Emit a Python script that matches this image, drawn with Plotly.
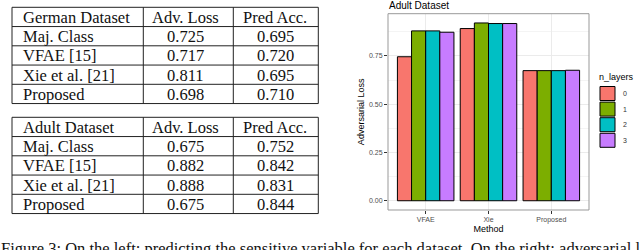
import plotly.graph_objects as go

W, H = 640, 250

# ---------------- data ----------------
table_header_cols = ["Adv. Loss", "Pred Acc."]
table_methods = ["Maj. Class", "VFAE [15]", "Xie et al. [21]", "Proposed"]
german_title = "German Dataset"
german_adv_loss = ["0.725", "0.717", "0.811", "0.698"]
german_pred_acc = ["0.695", "0.720", "0.695", "0.710"]
adult_title = "Adult Dataset"
adult_adv_loss = ["0.675", "0.882", "0.888", "0.675"]
adult_pred_acc = ["0.752", "0.842", "0.831", "0.844"]

bar_methods = ["VFAE", "Xie", "Proposed"]
n_layers = ["0", "1", "2", "3"]
loss_layer0 = [0.746, 0.892, 0.674]
loss_layer1 = [0.880, 0.921, 0.674]
loss_layer2 = [0.880, 0.918, 0.674]
loss_layer3 = [0.873, 0.918, 0.676]
layer_colors = ["#F8766D", "#7CAE00", "#00BFC4", "#C77CFF"]

y_ticks = [0.0, 0.25, 0.5, 0.75]
caption = ("Figure 3: On the left: predicting the sensitive variable for each dataset. "
           "On the right: adversarial loss as a function of the number of layers.")


def px(x):
    return x / W


def py(y):
    return 1 - y / H


fig = go.Figure()

series = [loss_layer0, loss_layer1, loss_layer2, loss_layer3]
for name, vals, col in zip(n_layers, series, layer_colors):
    fig.add_trace(go.Bar(
        x=bar_methods, y=vals, name=name,
        marker=dict(color=col, line=dict(color="black", width=1)),
        showlegend=False,
    ))

shapes = []
annotations = []

# ---------------- tables ----------------
serif = "Liberation Serif"
col_x = [12, 143.3, 233.3, 318.3]
row_h = 19.25


def draw_table(top, title, adv, acc):
    ys = [top + i * row_h for i in range(6)]
    for y in ys:
        shapes.append(dict(type="line", xref="paper", yref="paper",
                           x0=px(col_x[0]), x1=px(col_x[-1]), y0=py(y), y1=py(y),
                           line=dict(color="#222", width=1)))
    for x in col_x:
        shapes.append(dict(type="line", xref="paper", yref="paper",
                           x0=px(x), x1=px(x), y0=py(ys[0]), y1=py(ys[-1]),
                           line=dict(color="#222", width=1)))
    rows = [[title] + table_header_cols] + [[m, a, p] for m, a, p in zip(table_methods, adv, acc)]
    c2 = 185
    c3 = 275
    for i, r in enumerate(rows):
        yc = ys[i] + row_h / 2 + 0.5
        annotations.append(dict(text=r[0], xref="paper", yref="paper", x=px(21), y=py(yc),
                                xanchor="left", yanchor="middle", showarrow=False,
                                font=dict(family=serif, size=16.5, color="#111")))
        annotations.append(dict(text=r[1], xref="paper", yref="paper", x=px(c2), y=py(yc),
                                xanchor="center", yanchor="middle", showarrow=False,
                                font=dict(family=serif, size=16.5, color="#111")))
        annotations.append(dict(text=r[2], xref="paper", yref="paper", x=px(c3), y=py(yc),
                                xanchor="center", yanchor="middle", showarrow=False,
                                font=dict(family=serif, size=16.5, color="#111")))


draw_table(7.3, german_title, german_adv_loss, german_pred_acc)
draw_table(117.3, adult_title, adult_adv_loss, adult_pred_acc)

# ---------------- caption (cut off at bottom) ----------------
annotations.append(dict(text=caption, xref="paper", yref="paper", x=px(-1), y=py(237),
                        xanchor="left", yanchor="top", showarrow=False,
                        font=dict(family=serif, size=16.5, color="#111")))

# ---------------- bar chart annotations ----------------
sans = "Liberation Sans"
annotations.append(dict(text="Adult Dataset", xref="paper", yref="paper", x=px(387), y=py(5),
                        xanchor="left", yanchor="middle", showarrow=False,
                        font=dict(family=sans, size=10, color="black")))

# manual legend
annotations.append(dict(text="n_layers", xref="paper", yref="paper", x=px(597), y=py(77),
                        xanchor="left", yanchor="middle", showarrow=False,
                        font=dict(family=sans, size=9, color="black")))
for i, (name, col) in enumerate(zip(n_layers, layer_colors)):
    y0 = 86.5 + i * 15.6
    shapes.append(dict(type="rect", xref="paper", yref="paper",
                       x0=px(600), x1=px(615), y0=py(y0), y1=py(y0 + 14),
                       fillcolor=col, line=dict(color="black", width=1)))
    annotations.append(dict(text=name, xref="paper", yref="paper", x=px(621), y=py(y0 + 7),
                            xanchor="left", yanchor="middle", showarrow=False,
                            font=dict(family=sans, size=7, color="#333")))

# panel border
shapes.append(dict(type="rect", xref="paper", yref="paper",
                   x0=px(388), x1=px(589), y0=py(13.7), y1=py(210),
                   line=dict(color="#999", width=1), fillcolor="rgba(0,0,0,0)", layer="above"))

fig.update_layout(
    width=W, height=H,
    margin=dict(l=0, r=0, t=0, b=0),
    paper_bgcolor="white", plot_bgcolor="white",
    barmode="group", bargap=0.1, bargroupgap=0,
    shapes=shapes, annotations=annotations,
    showlegend=False,
    xaxis=dict(
        domain=[px(388), px(589)],
        range=[-0.6, 2.6],
        categoryorder="array", categoryarray=bar_methods,
        showgrid=True, gridcolor="#EBEBEB", gridwidth=1,
        ticks="outside", ticklen=3, tickcolor="#333", tickwidth=1,
        tickfont=dict(family=sans, size=7, color="#4D4D4D"),
        title=dict(text="Method", font=dict(family=sans, size=9, color="black"), standoff=2),
        zeroline=False, showline=False, automargin=False, fixedrange=True,
    ),
    yaxis=dict(
        domain=[py(210), py(13.7)],
        range=[-0.048, 0.969],
        tickvals=y_ticks, tickformat=".2f",
        showgrid=True, gridcolor="#EBEBEB", gridwidth=1,
        minor=dict(dtick=0.125, tick0=0, showgrid=True, gridcolor="#F4F4F4", gridwidth=1),
        ticks="outside", ticklen=3, tickcolor="#333", tickwidth=1,
        tickfont=dict(family=sans, size=7, color="#4D4D4D"),
        title=dict(text="Adversarial Loss", font=dict(family=sans, size=9, color="black"), standoff=2),
        zeroline=False, showline=False, automargin=False, fixedrange=True,
    ),
)

fig.write_html(
    "out.html",
    config={"displayModeBar": False},
    post_script="document.body.style.margin='0px';document.body.style.overflow='hidden';",
)
